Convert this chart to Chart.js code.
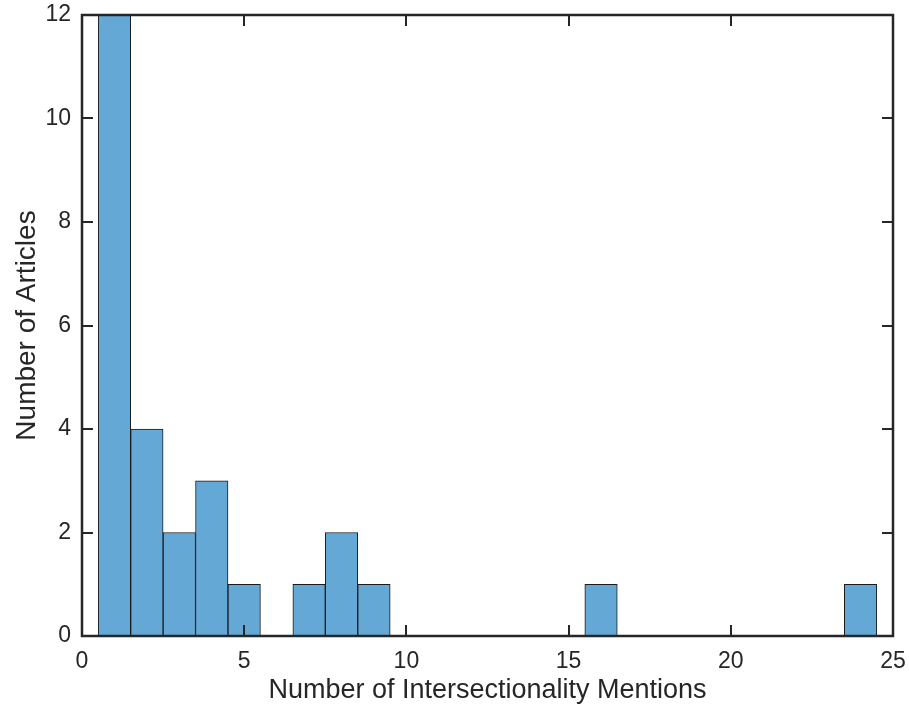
<!DOCTYPE html>
<html>
<head>
<meta charset="utf-8">
<script src="https://cdn.jsdelivr.net/npm/chart.js@4"></script>
<style>
  body { margin: 0; background: #fff; }
  #wrap { width: 909px; height: 708px; }
</style>
</head>
<body>
<div id="wrap"><canvas id="histChart"></canvas></div>
<script>
// histogram bins (bin centres, width 1) and counts
const mentionBins = [1, 2, 3, 4, 5, 7, 8, 9, 16, 24];
const articleCounts = [12, 4, 2, 3, 1, 1, 2, 1, 1, 1];
const xTicks = [0, 5, 10, 15, 20, 25];
const yTicks = [0, 2, 4, 6, 8, 10, 12];

const axisColor = '#262626';
const fontFamily = '"Liberation Sans", Arial, Helvetica, sans-serif';

// MATLAB-like box with inward ticks on all four sides
const boxPlugin = {
  id: 'boxPlugin',
  afterDatasetsDraw(chart) {
    const { ctx, chartArea: a, scales } = chart;
    const len = 11;
    ctx.save();
    ctx.strokeStyle = axisColor;
    ctx.lineWidth = 2;
    ctx.beginPath();
    scales.x.ticks.forEach(t => {
      const px = Math.round(scales.x.getPixelForValue(t.value));
      ctx.moveTo(px, a.bottom); ctx.lineTo(px, a.bottom - len);
      ctx.moveTo(px, a.top); ctx.lineTo(px, a.top + len);
    });
    scales.y.ticks.forEach(t => {
      const py = Math.round(scales.y.getPixelForValue(t.value));
      ctx.moveTo(a.left, py); ctx.lineTo(a.left + len, py);
      ctx.moveTo(a.right, py); ctx.lineTo(a.right - len, py);
    });
    ctx.stroke();
    ctx.lineWidth = 2.5;
    ctx.strokeRect(a.left, a.top, a.right - a.left, a.bottom - a.top);
    ctx.restore();
  }
};

const ctx = document.getElementById('histChart').getContext('2d');
const histChart = new Chart(ctx, {
  type: 'bar',
  data: {
    datasets: [{
      label: 'Articles',
      data: mentionBins.map((b, i) => ({ x: b, y: articleCounts[i] })),
      backgroundColor: 'rgb(100, 168, 214)',
      borderColor: '#1a1a1a',
      borderWidth: 1,
      borderSkipped: false,
      barPercentage: 1,
      categoryPercentage: 1
    }]
  },
  options: {
    responsive: true,
    maintainAspectRatio: false,
    animation: false,
    layout: { padding: { top: 15, right: 16, left: 0, bottom: 0 } },
    plugins: {
      legend: { display: false },
      tooltip: { enabled: false }
    },
    scales: {
      x: {
        type: 'linear',
        offset: false,
        min: 0,
        max: 25,
        afterBuildTicks: axis => { axis.ticks = xTicks.map(v => ({ value: v })); },
        afterFit: scale => {
          scale.height = 72;
          scale.paddingLeft = 0;
          scale.paddingRight = 0;
        },
        grid: { display: false, drawTicks: false, offset: false },
        border: { display: false },
        ticks: {
          color: axisColor,
          font: { family: fontFamily, size: 23 },
          padding: 12,
          maxRotation: 0
        },
        title: {
          display: true,
          text: 'Number of Intersectionality Mentions',
          color: axisColor,
          font: { family: fontFamily, size: 27 },
          padding: { top: 0, bottom: 1 }
        }
      },
      y: {
        min: 0,
        max: 12,
        afterBuildTicks: axis => { axis.ticks = yTicks.map(v => ({ value: v })); },
        afterFit: scale => {
          scale.width = 82;
          scale.paddingTop = 0;
          scale.paddingBottom = 0;
        },
        grid: { display: false, drawTicks: false },
        border: { display: false },
        ticks: {
          color: axisColor,
          font: { family: fontFamily, size: 23 },
          padding: 11
        },
        title: {
          display: true,
          text: 'Number of Articles',
          color: axisColor,
          font: { family: fontFamily, size: 28 },
          padding: { top: 10, bottom: 0 }
        }
      }
    }
  },
  plugins: [boxPlugin]
});
</script>
</body>
</html>
